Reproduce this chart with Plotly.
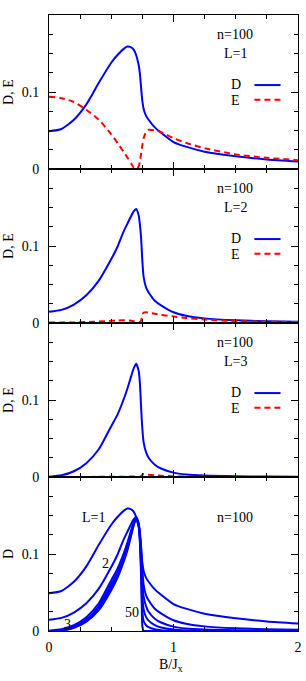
import plotly.graph_objects as go
from plotly.subplots import make_subplots

# ---- data ----
x = [0, 0.1, 0.2, 0.3, 0.4, 0.5, 0.55, 0.6, 0.63, 0.66, 0.68, 0.70, 0.72, 0.73,
     0.74, 0.75, 0.76, 0.78, 0.80, 0.85, 0.90, 1.0, 1.1, 1.25, 1.5, 1.75, 2.0]

D_L1 = [0.049, 0.052, 0.064, 0.084, 0.112, 0.138, 0.148, 0.156, 0.159, 0.158, 0.155, 0.148,
        0.135, 0.124, 0.105, 0.088, 0.078, 0.069, 0.064, 0.054, 0.047, 0.035, 0.029,
        0.0225, 0.0165, 0.0125, 0.0098]
E_L1 = [0.094, 0.092, 0.087, 0.077, 0.064, 0.045, 0.034, 0.022, 0.015, 0.007, 0.002, 0.0,
        0.003, 0.010, 0.020, 0.031, 0.040, 0.048, 0.051, 0.050, 0.048, 0.040, 0.034,
        0.027, 0.019, 0.0145, 0.0115]

D_L2 = [0.0145, 0.017, 0.024, 0.036, 0.055, 0.083, 0.099, 0.119, 0.129, 0.139, 0.145, 0.148,
        0.140, 0.128, 0.110, 0.080, 0.060, 0.046, 0.040, 0.029, 0.023, 0.014, 0.0095,
        0.006, 0.0035, 0.0022, 0.0016]
E_L2 = [0.0005, 0.0006, 0.0008, 0.0012, 0.0018, 0.0028, 0.0033, 0.0035, 0.0034, 0.003,
        0.0022, 0.0012, 0.0008, 0.001, 0.003, 0.011, 0.0135, 0.014, 0.0135, 0.012, 0.0105,
        0.0085, 0.0065, 0.0045, 0.0025, 0.0017, 0.0013]

D_L3 = [0.0004, 0.0022, 0.0075, 0.018, 0.036, 0.066, 0.081, 0.101, 0.115, 0.131, 0.141,
        0.147, 0.138, 0.122, 0.090, 0.062, 0.045, 0.032, 0.025, 0.016, 0.011, 0.0057,
        0.0033, 0.0018, 0.0009, 0.0006, 0.0004]
E_L3 = [0.0, 0.0, 0.0001, 0.0001, 0.0002, 0.0002, 0.0003, 0.0004, 0.0005, 0.0005, 0.0005,
        0.0004, 0.0003, 0.0005, 0.001, 0.003, 0.0038, 0.0035, 0.003, 0.0022, 0.0016,
        0.0009, 0.0005, 0.0003, 0.0001, 0.0001, 0.0]

D_L5 = [0.0, 0.0012, 0.0055, 0.015, 0.032, 0.061, 0.076, 0.096, 0.111, 0.128, 0.139, 0.146,
        0.138, 0.118, 0.082, 0.045, 0.028, 0.018, 0.0135, 0.0075, 0.0045, 0.0018, 0.0008,
        0.0003, 0.0001, 0.0, 0.0]
D_L10 = [0.0, 0.0008, 0.0045, 0.013, 0.029, 0.057, 0.072, 0.093, 0.108, 0.126, 0.138, 0.146,
         0.138, 0.115, 0.070, 0.025, 0.013, 0.0075, 0.005, 0.0022, 0.001, 0.0003, 0.0001,
         0.0, 0.0, 0.0, 0.0]
D_L50 = [0.0, 0.0006, 0.004, 0.012, 0.027, 0.053, 0.069, 0.090, 0.105, 0.124, 0.137, 0.146,
         0.139, 0.125, 0.098, 0.006, 0.0, 0.0, 0.0, 0.0, 0.0, 0.0, 0.0, 0.0, 0.0, 0.0, 0.0]

panel_labels = ["L=1", "L=2", "L=3"]
n_label = "n=100"

BLUE = "#0000ff"
RED = "#ff0000"
FONT = "Liberation Serif"

fig = make_subplots(rows=4, cols=1, shared_xaxes=True, vertical_spacing=0)

line_kw = dict(shape="spline", smoothing=0.6)
for i, (d, e) in enumerate([(D_L1, E_L1), (D_L2, E_L2), (D_L3, E_L3)], start=1):
    fig.add_trace(go.Scatter(x=x, y=d, mode="lines", showlegend=False,
                             line=dict(color=BLUE, width=2, **line_kw)), row=i, col=1)
    fig.add_trace(go.Scatter(x=x, y=e, mode="lines", showlegend=False,
                             line=dict(color=RED, width=2, dash="6px,4px", **line_kw)), row=i, col=1)

for d in [D_L1, D_L2, D_L3, D_L5, D_L10, D_L50]:
    fig.add_trace(go.Scatter(x=x, y=d, mode="lines", showlegend=False,
                             line=dict(color=BLUE, width=2, **line_kw)), row=4, col=1)

xminor = [0.25, 0.5, 0.75, 1.25, 1.5, 1.75]
yminor = [0.025, 0.05, 0.075, 0.125, 0.15, 0.175]
for r in range(1, 5):
    fig.update_xaxes(row=r, col=1, range=[0, 2], tickmode="array", tickvals=[0, 1, 2],
                     ticktext=["0", "1", "2"], ticks="inside", ticklen=7, tickwidth=1,
                     tickcolor="black", mirror="ticks", showline=True, linecolor="black",
                     linewidth=1, showgrid=False, zeroline=False, automargin=False,
                     showticklabels=(r == 4), ticklabelstandoff=3,
                     tickfont=dict(family=FONT, size=14, color="black"),
                     minor=dict(tickmode="array", tickvals=xminor, ticks="inside",
                                ticklen=4, tickcolor="black", tickwidth=1, showgrid=False))
    fig.update_yaxes(row=r, col=1, range=[0, 0.2], tickmode="array", tickvals=[0, 0.1],
                     ticktext=["0", "0.1"], ticks="inside", ticklen=7, tickwidth=1,
                     tickcolor="black", mirror="ticks", showline=True, linecolor="black",
                     linewidth=1, showgrid=False, zeroline=False, ticklabelstandoff=6,
                     automargin=False,
                     tickfont=dict(family=FONT, size=14, color="black"),
                     minor=dict(tickmode="array", tickvals=yminor, ticks="inside",
                                ticklen=4, tickcolor="black", tickwidth=1, showgrid=False))

tf = dict(family=FONT, size=14, color="black")
C = dict(showarrow=False, font=tf, xanchor="center", yanchor="middle")
ann = []
shapes = []
for i in range(1, 4):
    xr = "x" if i == 1 else f"x{i}"
    yr = "y" if i == 1 else f"y{i}"
    ann.append(dict(x=1.495, y=0.175, xref=xr, yref=yr, text=n_label, **C))
    ann.append(dict(x=1.495, y=0.150, xref=xr, yref=yr, text=panel_labels[i - 1], **C))
    ann.append(dict(x=1.5, y=0.110, xref=xr, yref=yr, text="D", **C))
    ann.append(dict(x=1.5, y=0.089, xref=xr, yref=yr, text="E", **C))
    shapes.append(dict(type="line", xref=xr, yref=yr, x0=1.65, x1=1.86, y0=0.109, y1=0.109,
                       line=dict(color=BLUE, width=2)))
    shapes.append(dict(type="line", xref=xr, yref=yr, x0=1.65, x1=1.86, y0=0.090, y1=0.090,
                       line=dict(color=RED, width=2, dash="6px,4px")))
    ann.append(dict(x=-0.165, y=1 - (i - 0.5) * 0.25, xref="paper", yref="paper", text="D, E",
                    textangle=-90, **C))

ann.append(dict(x=0.355, y=0.148, xref="x4", yref="y4", text="L=1", **C))
ann.append(dict(x=1.495, y=0.148, xref="x4", yref="y4", text=n_label, **C))
ann.append(dict(x=0.457, y=0.088, xref="x4", yref="y4", text="2", **C))
ann.append(dict(x=0.148, y=0.009, xref="x4", yref="y4", text="3", **C))
ann.append(dict(x=0.668, y=0.024, xref="x4", yref="y4", text="50", **C))
ann.append(dict(x=-0.165, y=0.125, xref="paper", yref="paper", text="D", textangle=-90, **C))
ann.append(dict(x=0.49, y=-0.056, xref="paper", yref="paper", text="B/J<sub>x</sub>", **C))

fig.update_layout(width=306, height=681, margin=dict(l=49, r=8, t=15, b=50, autoexpand=False),
                  plot_bgcolor="white", paper_bgcolor="white", showlegend=False,
                  annotations=ann, shapes=shapes, font=tf)

fig.write_html("out.html", config={"displayModeBar": False},
               post_script="document.body.style.margin='0';document.body.style.padding='0';")
